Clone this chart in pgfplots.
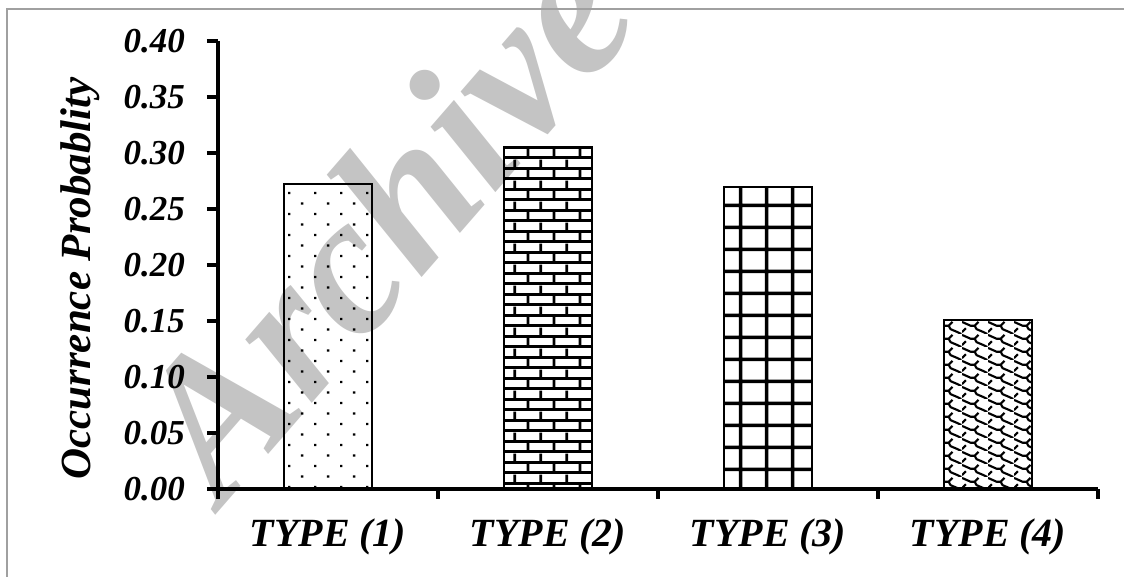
\documentclass[border=0pt]{standalone}
\usepackage{fontspec}
\setmainfont{Liberation Serif}
\usepackage{pgfplots}
\pgfplotsset{compat=1.18}
\usetikzlibrary{patterns}

\definecolor{wm}{RGB}{196,196,196}
\definecolor{frame}{RGB}{160,160,160}

\pgfdeclarepatternformonly{mydots}{\pgfqpoint{0pt}{0pt}}{\pgfqpoint{25.8pt}{21.4pt}}{\pgfqpoint{25.8pt}{21.4pt}}{%
 \pgfpathrectangle{\pgfqpoint{5pt}{4pt}}{\pgfqpoint{2.4pt}{2.4pt}}%
 \pgfpathrectangle{\pgfqpoint{17.9pt}{14.7pt}}{\pgfqpoint{2.4pt}{2.4pt}}%
 \pgfusepath{fill}}

\pgfdeclarepatternformonly{mybricks}{\pgfqpoint{0pt}{0pt}}{\pgfqpoint{26.3pt}{20.6pt}}{\pgfqpoint{26.3pt}{20.6pt}}{%
 \pgfsetlinewidth{2.8pt}%
 \pgfpathmoveto{\pgfqpoint{0pt}{1.5pt}}\pgfpathlineto{\pgfqpoint{26.3pt}{1.5pt}}%
 \pgfpathmoveto{\pgfqpoint{0pt}{11.8pt}}\pgfpathlineto{\pgfqpoint{26.3pt}{11.8pt}}%
 \pgfpathmoveto{\pgfqpoint{3pt}{1.5pt}}\pgfpathlineto{\pgfqpoint{3pt}{11.8pt}}%
 \pgfpathmoveto{\pgfqpoint{16.15pt}{11.8pt}}\pgfpathlineto{\pgfqpoint{16.15pt}{20.6pt}}%
 \pgfpathmoveto{\pgfqpoint{16.15pt}{0pt}}\pgfpathlineto{\pgfqpoint{16.15pt}{1.5pt}}%
 \pgfusepath{stroke}}

\pgfdeclarepatternformonly{mygrid}{\pgfqpoint{0pt}{0pt}}{\pgfqpoint{26pt}{21.5pt}}{\pgfqpoint{26pt}{21.5pt}}{%
 \pgfpathrectangle{\pgfqpoint{11.2pt}{-1pt}}{\pgfqpoint{3.6pt}{23.5pt}}%
 \pgfpathrectangle{\pgfqpoint{-1pt}{-1.3pt}}{\pgfqpoint{28pt}{2.6pt}}%
 \pgfpathrectangle{\pgfqpoint{-1pt}{20.2pt}}{\pgfqpoint{28pt}{2.6pt}}%
 \pgfusepath{fill}}

\pgfdeclarepatternformonly{mywave}{\pgfqpoint{0pt}{0pt}}{\pgfqpoint{26pt}{12.5pt}}{\pgfqpoint{26pt}{12.5pt}}{%
 \pgfsetlinewidth{2.2pt}%
 \pgfpathmoveto{\pgfqpoint{0pt}{12.5pt}}%
 \pgfpathlineto{\pgfqpoint{9pt}{8.5pt}}%
 \pgfpathlineto{\pgfqpoint{13pt}{8.5pt}}%
 \pgfpathlineto{\pgfqpoint{15pt}{5pt}}%
 \pgfpathlineto{\pgfqpoint{22pt}{2pt}}%
 \pgfpathlineto{\pgfqpoint{26pt}{0pt}}%
 \pgfpathmoveto{\pgfqpoint{13pt}{8.5pt}}%
 \pgfpathlineto{\pgfqpoint{17pt}{12.5pt}}%
 \pgfpathmoveto{\pgfqpoint{0pt}{2pt}}%
 \pgfpathlineto{\pgfqpoint{4pt}{6pt}}%
 \pgfusepath{stroke}}

\begin{document}
\begin{tikzpicture}
\path[use as bounding box] (0pt,0pt) rectangle (1124pt,577pt);
\node[rotate=49, text=wm, font=\fontsize{200}{200}\selectfont\bfseries\itshape] at (382pt,358pt) {Archive};
\draw[frame, line width=2pt] (7pt,-5pt) -- (7pt,568pt) -- (1130pt,568pt);
\begin{axis}[
  at={(218pt,88pt)}, anchor=south west,
  scale only axis, width=880pt, height=448pt,
  xmin=-0.5, xmax=3.5, ymin=0, ymax=0.40,
  ybar, bar width=88pt,
  axis x line=bottom, axis y line=left,
  axis line style={-, line width=3.5pt, black},
  ytick={0,0.05,0.1,0.15,0.2,0.25,0.3,0.35,0.4},
  yticklabels={0.00,0.05,0.10,0.15,0.20,0.25,0.30,0.35,0.40},
  xtick={0,1,2,3},
  xticklabels={TYPE (1),TYPE (2),TYPE (3),TYPE (4)},
  minor xtick={-0.5,0.5,1.5,2.5,3.5},
  tick align=outside,
  major tick length=11pt, minor tick length=10pt,
  every tick/.append style={line width=3.5pt, black},
  major x tick style={draw=none},
  yticklabel style={font=\fontsize{35}{38}\selectfont\bfseries\itshape, inner sep=0pt, xshift=-22pt},
  xticklabel style={font=\fontsize{40}{44}\selectfont\bfseries\itshape, inner sep=0pt, yshift=-19pt},
  ylabel={Occurrence Probablity},
  every axis y label/.style={at={(rel axis cs:-0.157,0.47)}, rotate=90, anchor=center, font=\fontsize{43}{48}\selectfont\bfseries\itshape},
]
\addplot[bar shift=0pt, draw=black, line width=2pt, pattern=mydots] coordinates {(0,0.272)};
\addplot[bar shift=0pt, draw=black, line width=2.5pt, pattern=mybricks] coordinates {(1,0.305)};
\addplot[bar shift=0pt, draw=black, line width=2pt, pattern=mygrid] coordinates {(2,0.270)};
\addplot[bar shift=0pt, draw=black, line width=2pt, pattern=mywave] coordinates {(3,0.151)};
\end{axis}
\end{tikzpicture}
\end{document}
